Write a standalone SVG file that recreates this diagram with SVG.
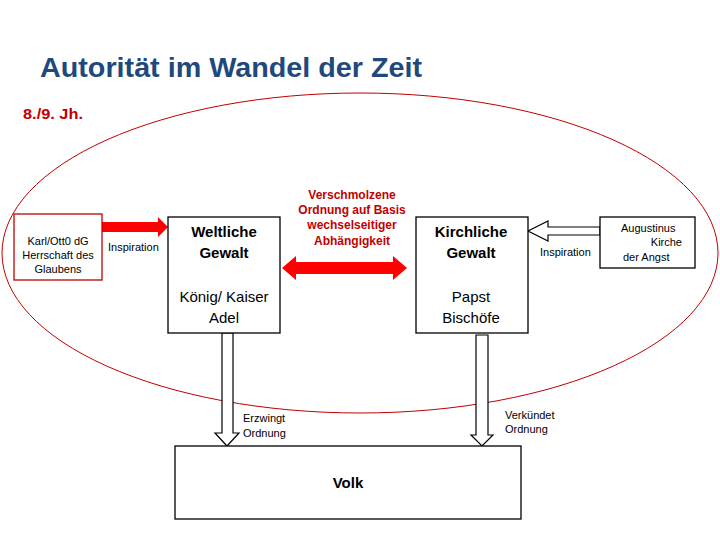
<svg xmlns="http://www.w3.org/2000/svg" width="720" height="540" viewBox="0 0 720 540">
<style>
text{font-family:"Liberation Sans","DejaVu Sans",sans-serif;fill:#000}
.box{fill:#fff;stroke:#000;stroke-width:1.3}
.small{font-size:11px}
.mid{font-size:15px}
.b{font-weight:bold}
.red{fill:#c00000}
.warrow{fill:#fff;stroke:#000;stroke-width:1.2}
.rarrow{fill:#ff0000;stroke:none}
</style>
<rect width="720" height="540" fill="#fff"/>
<text x="40" y="77" font-size="27" font-weight="bold" style="fill:#1f497d" textLength="382" lengthAdjust="spacingAndGlyphs">Autorität im Wandel der Zeit</text>
<text x="23" y="119" font-size="14" class="b red" textLength="60" lengthAdjust="spacingAndGlyphs">8./9. Jh.</text>
<ellipse cx="360" cy="253" rx="358" ry="160" fill="none" stroke="#c00000" stroke-width="1"/>
<g id="connectors">
<polygon class="rarrow" points="102,222 158,222 158,217 168,227 158,237 158,232 102,232"/>
<polygon class="rarrow" points="282,268 296,256 296,262 393,262 393,256 407,268 393,280 393,274 296,274 296,280"/>
<polygon class="warrow" points="600,227 548,227 548,221 528,231 548,241 548,235 600,235"/>
<polygon class="warrow" points="222,333 233,333 233,433 239,433 227,446 215,433 222,433"/>
<polygon class="warrow" points="476,335 488,335 488,435 493,435 482,446 471,435 476,435"/>
</g>
<g id="karl">
<rect class="box" x="14" y="214" width="88" height="66" style="stroke:#c00000"/>
<text class="small" x="58" y="245" text-anchor="middle">Karl/Ott0 dG</text>
<text class="small" x="58" y="259" text-anchor="middle">Herrschaft des</text>
<text class="small" x="58" y="273" text-anchor="middle">Glaubens</text>
</g>
<text class="small" x="108" y="251">Inspiration</text>
<g id="weltliche">
<rect class="box" x="168" y="217" width="112" height="116"/>
<text class="mid b" x="224" y="237" text-anchor="middle">Weltliche</text>
<text class="mid b" x="224" y="258" text-anchor="middle">Gewalt</text>
<text class="mid" x="224" y="302" text-anchor="middle">König/ Kaiser</text>
<text class="mid" x="224" y="323" text-anchor="middle">Adel</text>
</g>
<g id="mitte">
<text x="352" y="199" font-size="12" class="b red" text-anchor="middle">Verschmolzene</text>
<text x="352" y="214" font-size="12" class="b red" text-anchor="middle">Ordnung auf Basis</text>
<text x="352" y="229" font-size="12" class="b red" text-anchor="middle">wechselseitiger</text>
<text x="352" y="245" font-size="12" class="b red" text-anchor="middle">Abhängigkeit</text>
</g>
<g id="kirchliche">
<rect class="box" x="416" y="217" width="112" height="116"/>
<text class="mid b" x="471" y="237" text-anchor="middle">Kirchliche</text>
<text class="mid b" x="471" y="258" text-anchor="middle">Gewalt</text>
<text class="mid" x="471" y="302" text-anchor="middle">Papst</text>
<text class="mid" x="471" y="323" text-anchor="middle">Bischöfe</text>
</g>
<text class="small" x="540" y="256">Inspiration</text>
<g id="augustinus">
<rect class="box" x="600" y="217" width="95" height="51"/>
<text class="small" x="621" y="232">Augustinus</text>
<text class="small" x="682" y="246" text-anchor="end">Kirche</text>
<text class="small" x="623" y="261">der Angst</text>
</g>
<text class="small" x="243" y="422">Erzwingt</text>
<text class="small" x="243" y="437">Ordnung</text>
<text class="small" x="505" y="419">Verkündet</text>
<text class="small" x="505" y="433">Ordnung</text>
<g id="volk">
<rect class="box" x="175" y="446" width="346" height="73"/>
<text class="mid b" x="348" y="488" text-anchor="middle" font-weight="normal">Volk</text>
</g>
</svg>
